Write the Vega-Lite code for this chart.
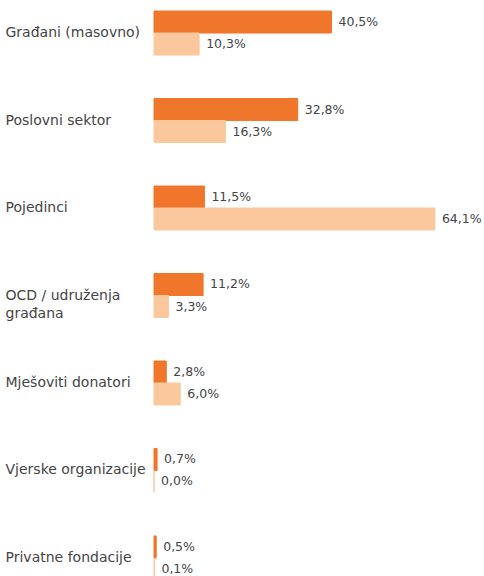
{
  "$schema": "https://vega.github.io/schema/vega-lite/v6.json",
  "autosize": {"type": "none"},
  "padding": {"left": 154, "top": 0, "right": 0, "bottom": 0},
  "width": 330,
  "height": 591,
  "background": "white",
  "data": {
    "values": [
      {"category": "Građani (masovno)", "series": "A", "value": 40.5},
      {"category": "Građani (masovno)", "series": "B", "value": 10.3},
      {"category": "Poslovni sektor", "series": "A", "value": 32.8},
      {"category": "Poslovni sektor", "series": "B", "value": 16.3},
      {"category": "Pojedinci", "series": "A", "value": 11.5},
      {"category": "Pojedinci", "series": "B", "value": 64.1},
      {"category": "OCD / udruženja\ngrađana", "series": "A", "value": 11.2},
      {"category": "OCD / udruženja\ngrađana", "series": "B", "value": 3.3},
      {"category": "Mješoviti donatori", "series": "A", "value": 2.8},
      {"category": "Mješoviti donatori", "series": "B", "value": 6.0},
      {"category": "Vjerske organizacije", "series": "A", "value": 0.7},
      {"category": "Vjerske organizacije", "series": "B", "value": 0.0},
      {"category": "Privatne fondacije", "series": "A", "value": 0.5},
      {"category": "Privatne fondacije", "series": "B", "value": 0.1}
    ]
  },
  "transform": [
    {"calculate": "replace(format(datum.value, '.1f'), '.', ',') + '%'", "as": "label"}
  ],
  "encoding": {
    "y": {
      "field": "category",
      "type": "nominal",
      "sort": null,
      "scale": {"paddingInner": 0.497, "paddingOuter": 0.126},
      "axis": {
        "title": null,
        "domain": false,
        "ticks": false,
        "labelAlign": "left",
        "labelPadding": 149,
        "labelFont": "DejaVu Sans",
        "labelFontSize": 14,
        "labelColor": "#444444",
        "labelLimit": 0,
        "labelLineHeight": 18,
        "labelExpr": "split(datum.label, '\\n')"
      }
    },
    "yOffset": {
      "field": "series",
      "type": "nominal",
      "scale": {"paddingInner": 0, "paddingOuter": 0}
    },
    "x": {
      "field": "value",
      "type": "quantitative",
      "scale": {"domain": [0, 75.3], "nice": false, "zero": true},
      "axis": null
    }
  },
  "layer": [
    {
      "mark": {"type": "bar", "strokeWidth": 1},
      "encoding": {
        "color": {
          "field": "series",
          "type": "nominal",
          "scale": {"domain": ["A", "B"], "range": ["#F0762C", "#FBC89D"]},
          "legend": null
        },
        "stroke": {
          "field": "series",
          "type": "nominal",
          "scale": {"domain": ["A", "B"], "range": ["#F0762C", "#FBC89D"]},
          "legend": null
        }
      }
    },
    {
      "mark": {
        "type": "text",
        "align": "left",
        "baseline": "middle",
        "dx": 7,
        "font": "DejaVu Sans",
        "fontSize": 12.5,
        "color": "#444444"
      },
      "encoding": {
        "text": {"field": "label", "type": "nominal"}
      }
    }
  ],
  "config": {"view": {"stroke": null}}
}
